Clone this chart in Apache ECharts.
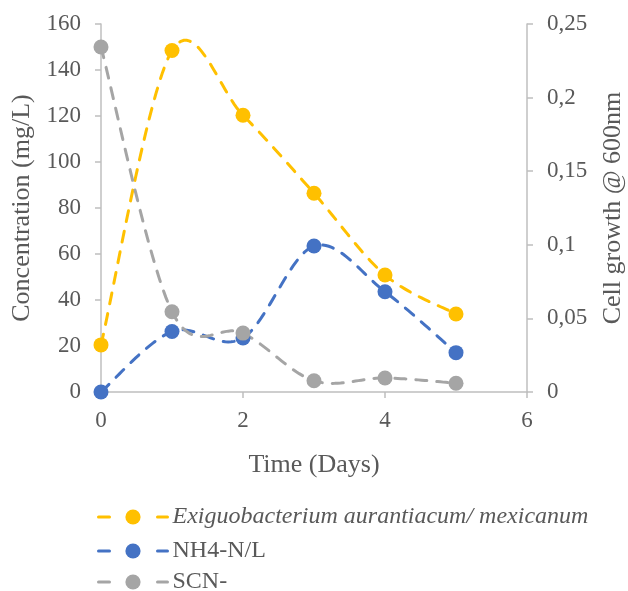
<!DOCTYPE html>
<html>
<head>
<meta charset="UTF-8">
<title>Concentration and cell growth</title>
<script src="https://cdn.jsdelivr.net/npm/echarts@6/dist/echarts.min.js"></script>
</head>
<body style="margin:0">
<div id="main" style="width:628px;height:591px;"></div>
<script type="text/javascript">
var days = [0, 1, 2, 3, 4, 5];
var cellGrowth = [0.032, 0.232, 0.188, 0.135, 0.0795, 0.053];
var nh4 = [0, 26.3, 23.5, 63.5, 43.6, 17.1];
var scn = [150, 34.9, 25.6, 4.9, 6.1, 3.8];
var seriesNames = ['Exiguobacterium aurantiacum/ mexicanum', 'NH4-N/L', 'SCN-'];
var colors = ['#FFC000', '#4472C4', '#A5A5A5'];

function pairs(vals) {
    return days.map(function (d, i) { return [d, vals[i]]; });
}

var myChart = echarts.init(document.getElementById('main'));
var font = 'Liberation Serif';
var axisGray = '#BFBFBF';
var textGray = '#595959';
var dash = [11, 10];

// smooth curve like the spreadsheet one (catmull-rom through the points)
function curveSeries(idx, vals, yIdx) {
    return {
        name: 'curve' + idx,
        type: 'custom',
        yAxisIndex: yIdx,
        silent: true,
        z: 1,
        data: pairs(vals),
        renderItem: function (params, api) {
            if (params.dataIndex !== 0) return null;
            var pts = days.map(function (d, i) { return api.coord([d, vals[i]]); });
            var n = pts.length, out = [];
            for (var i = 0; i < n - 1; i++) {
                var p0 = pts[Math.max(i - 1, 0)], p1 = pts[i], p2 = pts[i + 1], p3 = pts[Math.min(i + 2, n - 1)];
                var c1 = [p1[0] + (p2[0] - p0[0]) / 6, p1[1] + (p2[1] - p0[1]) / 6];
                var c2 = [p2[0] - (p3[0] - p1[0]) / 6, p2[1] - (p3[1] - p1[1]) / 6];
                for (var s = 0; s < 24; s++) {
                    var t = s / 24, u = 1 - t;
                    out.push([
                        u * u * u * p1[0] + 3 * u * u * t * c1[0] + 3 * u * t * t * c2[0] + t * t * t * p2[0],
                        u * u * u * p1[1] + 3 * u * u * t * c1[1] + 3 * u * t * t * c2[1] + t * t * t * p2[1]
                    ]);
                }
            }
            out.push(pts[n - 1]);
            return {
                type: 'polyline',
                shape: { points: out },
                style: { stroke: colors[idx], lineWidth: 3, lineDash: dash, lineCap: 'round', fill: null }
            };
        }
    };
}

function markerSeries(idx, vals, yIdx) {
    return {
        name: seriesNames[idx],
        type: 'line',
        yAxisIndex: yIdx,
        data: pairs(vals),
        symbol: 'circle',
        symbolSize: 15,
        z: 3,
        itemStyle: { color: colors[idx] },
        lineStyle: { color: colors[idx], width: 3, type: dash, opacity: 0 }
    };
}

// one legend per row so nothing wraps into a second column
var legendTops = [505, 539, 570];
function legendRow(idx) {
    return {
        left: 97,
        top: legendTops[idx],
        padding: 0,
        itemWidth: 69,
        itemHeight: 19,
        data: [seriesNames[idx]],
        lineStyle: { width: 3, type: [11, 48], opacity: 1, cap: 'round' },
        formatter: function (name) {
            return name === seriesNames[0] ? '{i|' + name + '}' : name;
        },
        textStyle: {
            fontFamily: font, fontSize: 24, color: textGray,
            rich: { i: { fontFamily: font, fontSize: 24, fontStyle: 'italic', color: textGray } }
        }
    };
}

var option = {
    animation: false,
    color: colors,
    textStyle: { fontFamily: font },
    grid: { left: 101, right: 101, top: 24, bottom: 199, containLabel: false, outerBoundsMode: 'none' },
    legend: [legendRow(0), legendRow(1), legendRow(2)],
    xAxis: {
        type: 'value',
        min: 0, max: 6, interval: 2,
        name: 'Time (Days)',
        nameLocation: 'middle',
        nameGap: 60,
        nameTextStyle: { fontFamily: font, fontSize: 26, color: textGray },
        axisLine: { show: true, lineStyle: { color: axisGray, width: 1.5 } },
        axisTick: { show: true, length: 6, lineStyle: { color: axisGray, width: 1.5 } },
        axisLabel: { fontFamily: font, fontSize: 23, color: textGray, margin: 17 },
        splitLine: { show: false }
    },
    yAxis: [
        {
            type: 'value',
            min: 0, max: 160, interval: 20,
            name: 'Concentration (mg/L)',
            nameLocation: 'middle',
            nameRotate: 90,
            nameGap: 64,
            nameTextStyle: { fontFamily: font, fontSize: 26, color: textGray },
            axisLine: { show: true, lineStyle: { color: axisGray, width: 1.5 } },
            axisTick: { show: true, length: 6, lineStyle: { color: axisGray, width: 1.5 } },
            axisLabel: { fontFamily: font, fontSize: 23, color: textGray, margin: 20 },
            splitLine: { show: false }
        },
        {
            type: 'value',
            min: 0, max: 0.25, interval: 0.05,
            name: 'Cell growth @ 600nm',
            nameLocation: 'middle',
            nameRotate: 90,
            nameGap: 73,
            nameTextStyle: { fontFamily: font, fontSize: 26, color: textGray },
            axisLine: { show: true, lineStyle: { color: axisGray, width: 1.5 } },
            axisTick: { show: true, length: 6, lineStyle: { color: axisGray, width: 1.5 } },
            axisLabel: {
                fontFamily: font, fontSize: 23, color: textGray, margin: 20,
                formatter: function (v) { return String(+v.toFixed(2)).replace('.', ','); }
            },
            splitLine: { show: false }
        }
    ],
    series: [
        curveSeries(0, cellGrowth, 1),
        curveSeries(1, nh4, 0),
        curveSeries(2, scn, 0),
        markerSeries(0, cellGrowth, 1),
        markerSeries(1, nh4, 0),
        markerSeries(2, scn, 0)
    ]
};

myChart.setOption(option);
</script>
</body>
</html>
